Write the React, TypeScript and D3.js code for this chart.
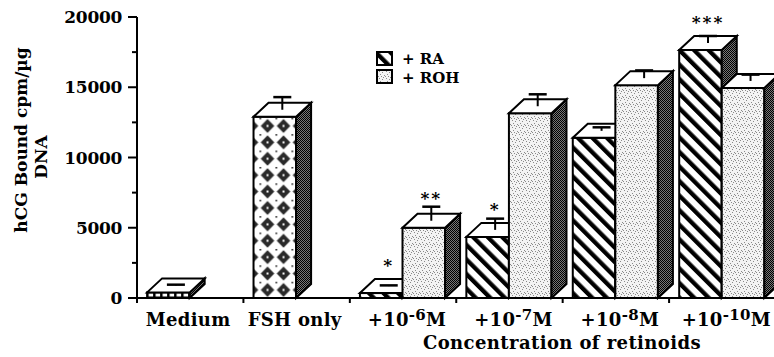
import * as d3 from 'd3';
import { useEffect, useRef } from 'react';

const controlLabels = ['Medium', 'FSH only'];
const controlValues = [400, 12900];
const controlErrors = [50, 900];

const concExponents = ['-6', '-7', '-8', '-10'];
const raValues = [350, 4350, 11400, 17650];
const raErrors = [50, 800, 250, 500];
const rohValues = [5000, 13150, 15150, 14950];
const rohErrors = [1000, 850, 550, 450];
const raStars = ['*', '*', '', '***'];
const rohStars = ['**', '', '', ''];

const yTicks = [0, 5000, 10000, 15000, 20000];
const yMinorTicks = [2500, 7500, 12500, 17500];

const W = 774;
const H = 357;
const FONT = '"DejaVu Serif", serif';

export default function App() {
  const ref = useRef<SVGSVGElement>(null);

  useEffect(() => {
    if (!ref.current) return;
    const svg = d3.select(ref.current);
    svg.selectAll('*').remove();

    const cats = [...controlLabels, ...concExponents];
    const x = d3.scaleBand<string>().domain(cats).range([137, 775.5]).padding(0);
    const y = d3.scaleLinear().domain([0, 20000]).range([298, 17]);
    const bw = x.bandwidth();
    const barW = bw * 0.4;
    const off = bw * 0.095;
    const dx = 15;
    const dy = 14;
    const y0 = y(0);

    const defs = svg.append('defs');

    // diagonal hatch for RA
    const ra = defs.append('pattern').attr('id', 'ra').attr('patternUnits', 'userSpaceOnUse')
      .attr('width', 10.3).attr('height', 10.3).attr('patternTransform', 'rotate(-45)');
    ra.append('rect').attr('width', 10.3).attr('height', 10.3).attr('fill', '#fff');
    ra.append('rect').attr('x', 0).attr('width', 4.3).attr('height', 10.3).attr('fill', '#000');

    // light stipple for ROH
    const roh = defs.append('pattern').attr('id', 'roh').attr('patternUnits', 'userSpaceOnUse')
      .attr('width', 7).attr('height', 7);
    roh.append('rect').attr('width', 7).attr('height', 7).attr('fill', '#f3f3f3');
    [[1, 1], [4, 2], [2, 4], [6, 5], [5, 0], [0, 6], [3, 6]].forEach(([a, b]) =>
      roh.append('rect').attr('x', a).attr('y', b).attr('width', 1).attr('height', 1).attr('fill', '#8a8a8a'));

    // dark stipple for side faces
    const side = defs.append('pattern').attr('id', 'side').attr('patternUnits', 'userSpaceOnUse')
      .attr('width', 2).attr('height', 2);
    side.append('rect').attr('width', 2).attr('height', 2).attr('fill', '#777');
    side.append('rect').attr('width', 1).attr('height', 1).attr('fill', '#000');
    side.append('rect').attr('x', 1).attr('y', 1).attr('width', 1).attr('height', 1).attr('fill', '#000');

    // diamonds for FSH only
    const fx = (x(controlLabels[1]) ?? 0) + off;
    const fsh = defs.append('pattern').attr('id', 'fsh').attr('patternUnits', 'userSpaceOnUse')
      .attr('x', fx + 6).attr('y', y(controlValues[1]) + 1).attr('width', 16).attr('height', 16.4);
    fsh.append('rect').attr('width', 16).attr('height', 16.4).attr('fill', '#fff');
    fsh.append('path').attr('d', 'M8,1.2 L14.8,8.2 L8,15.2 L1.2,8.2Z').attr('fill', '#2a2a2a');
    fsh.append('rect').attr('x', 7).attr('y', 7.2).attr('width', 2).attr('height', 2).attr('fill', '#fff');
    fsh.append('rect').attr('x', 0).attr('y', 0).attr('width', 1.5).attr('height', 1.5).attr('fill', '#000');

    // small squares for Medium
    const med = defs.append('pattern').attr('id', 'med').attr('patternUnits', 'userSpaceOnUse')
      .attr('x', (x(controlLabels[0]) ?? 0) + off).attr('y', y0 - 6).attr('width', 7).attr('height', 6);
    med.append('rect').attr('width', 7).attr('height', 6).attr('fill', '#000');
    med.append('rect').attr('x', 1.5).attr('y', 1).attr('width', 4.5).attr('height', 3.5).attr('fill', '#fff');

    const g = svg.append('g');

    function bar(x0: number, v: number, err: number, fill: string, stars: string) {
      const yv = y(v);
      const bg = g.append('g').attr('stroke', '#000').attr('stroke-width', 2).attr('stroke-linejoin', 'miter');
      bg.append('rect').attr('x', x0).attr('y', yv).attr('width', barW).attr('height', y0 - yv).attr('fill', fill);
      bg.append('path').attr('fill', 'url(#side)')
        .attr('d', `M${x0 + barW},${yv} L${x0 + barW + dx},${yv - dy} L${x0 + barW + dx},${y0 - dy} L${x0 + barW},${y0}Z`);
      bg.append('path').attr('fill', '#fff')
        .attr('d', `M${x0},${yv} L${x0 + dx},${yv - dy} L${x0 + barW + dx},${yv - dy} L${x0 + barW},${yv}Z`);
      const cx = x0 + barW / 2 + dx / 2;
      const cy = yv - dy / 2;
      const ce = y(v + err) - dy / 2;
      bg.append('line').attr('x1', cx).attr('x2', cx).attr('y1', cy).attr('y2', ce);
      bg.append('line').attr('x1', cx - 9).attr('x2', cx + 9).attr('y1', ce).attr('y2', ce).attr('stroke-width', 2.5);
      if (stars) {
        g.append('text').attr('x', cx).attr('y', Math.min(ce - 3, yv - 22)).attr('text-anchor', 'middle')
          .attr('font-family', FONT).attr('font-weight', 'bold').attr('font-size', 17)
          .attr('letter-spacing', 2).text(stars);
      }
    }

    bar((x(controlLabels[0]) ?? 0) + off, controlValues[0], controlErrors[0], 'url(#med)', '');
    bar(fx, controlValues[1], controlErrors[1], 'url(#fsh)', '');
    concExponents.forEach((c, i) => {
      const x0 = (x(c) ?? 0) + off;
      bar(x0, raValues[i], raErrors[i], 'url(#ra)', raStars[i]);
      bar(x0 + barW, rohValues[i], rohErrors[i], 'url(#roh)', rohStars[i]);
    });

    // axes
    const ax = svg.append('g').attr('stroke', '#000').attr('stroke-width', 2);
    ax.append('line').attr('x1', 137).attr('x2', 137).attr('y1', y(20000)).attr('y2', y0 + 5);
    ax.append('line').attr('x1', 137).attr('x2', 776).attr('y1', y0).attr('y2', y0);
    yTicks.forEach(t => ax.append('line').attr('x1', 128).attr('x2', 137).attr('y1', y(t)).attr('y2', y(t)));
    yMinorTicks.forEach(t => ax.append('line').attr('x1', 132).attr('x2', 137).attr('y1', y(t)).attr('y2', y(t)));
    cats.slice(1).forEach(c => {
      const xx = x(c) ?? 0;
      ax.append('line').attr('x1', xx).attr('x2', xx).attr('y1', y0).attr('y2', y0 + 5);
    });

    const txt = svg.append('g').attr('font-family', FONT).attr('font-weight', 'bold').attr('fill', '#000');
    yTicks.forEach(t => txt.append('text').attr('x', 122).attr('y', y(t)).attr('dy', '0.36em')
      .attr('text-anchor', 'end').attr('font-size', 17).attr('letter-spacing', -0.3).text(String(t)));

    controlLabels.forEach(c => txt.append('text').attr('x', (x(c) ?? 0) + bw / 2 - 2).attr('y', 326)
      .attr('text-anchor', 'middle').attr('font-size', 18).attr('letter-spacing', 0.3).text(c));
    concExponents.forEach(c => {
      const t = txt.append('text').attr('x', (x(c) ?? 0) + bw / 2 + 4).attr('y', 326)
        .attr('text-anchor', 'middle').attr('font-size', 18).attr('letter-spacing', 0.3);
      t.append('tspan').text('+10');
      t.append('tspan').attr('dy', -6).attr('font-size', 15).text(c);
      t.append('tspan').attr('dy', 6).text('M');
    });
    txt.append('text').attr('x', 562).attr('y', 349).attr('text-anchor', 'middle')
      .attr('font-size', 18).attr('letter-spacing', 0.4).text('Concentration of retinoids');

    txt.append('text').attr('transform', 'translate(27,140) rotate(-90)').attr('text-anchor', 'middle')
      .attr('font-size', 17).text('hCG Bound cpm/µg');
    txt.append('text').attr('transform', 'translate(47,157) rotate(-90)').attr('text-anchor', 'middle')
      .attr('font-size', 17).text('DNA');

    // legend
    const lg = svg.append('g');
    lg.append('rect').attr('x', 377).attr('y', 52).attr('width', 15).attr('height', 13)
      .attr('fill', 'url(#ra)').attr('stroke', '#000').attr('stroke-width', 2);
    lg.append('rect').attr('x', 377).attr('y', 70).attr('width', 15).attr('height', 13)
      .attr('fill', 'url(#roh)').attr('stroke', '#000').attr('stroke-width', 2);
    lg.append('text').attr('x', 402).attr('y', 64).attr('font-family', FONT).attr('font-weight', 'bold')
      .attr('font-size', 15).text('+ RA');
    lg.append('text').attr('x', 402).attr('y', 83).attr('font-family', FONT).attr('font-weight', 'bold')
      .attr('font-size', 15).text('+ ROH');
  }, []);

  return (
    <svg
      ref={ref}
      width={W}
      height={H}
      viewBox={`0 0 ${W} ${H}`}
      style={{ position: 'absolute', left: 0, top: 0, background: '#fff' }}
    />
  );
}
